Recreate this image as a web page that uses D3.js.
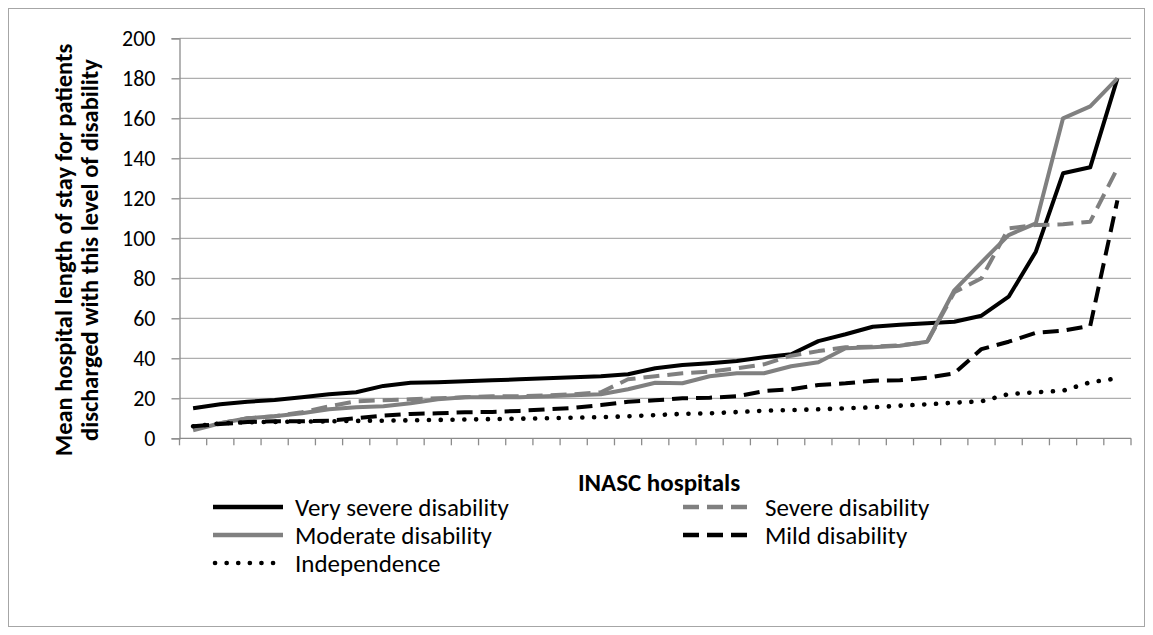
<!DOCTYPE html>
<html>
<head>
<meta charset="utf-8">
<script src="https://cdn.jsdelivr.net/npm/d3@7/dist/d3.min.js"></script>
<style>
  html, body { margin: 0; padding: 0; background: #fff; }
  svg { display: block; }
  text { font-family: Carlito, Calibri, Lato, "Open Sans", sans-serif; fill: #000; }
</style>
</head>
<body>
<svg id="chart" width="1153" height="635"></svg>
<script>
// ---- data ----
const hospitals = d3.range(1, 36); // 35 INASC hospitals
const verySevere = [15, 17, 18.3, 19.2, 20.5, 22, 23, 26.2, 27.8, 28, 28.5, 29, 29.5, 30, 30.5, 31, 32, 35, 36.6, 37.5, 38.6, 40.5, 42, 48.6, 52, 55.8, 56.8, 57.5, 58.3, 61.3, 70.8, 93.3, 132.5, 135.5, 180];
const severe = [5, 7.5, 10, 11, 13, 16, 18.5, 19, 19.5, 20, 20.5, 21, 21, 21.5, 22, 23, 29.5, 31, 32.5, 33.3, 35, 37, 41.3, 43.6, 45.5, 45.8, 46.5, 48, 73, 80, 105, 106.6, 107, 108.3, 135];
const moderate = [4, 7.5, 10, 11, 12.5, 14.5, 15.5, 16, 17.5, 19.5, 20.5, 20.5, 20.5, 21, 21.5, 22, 24.5, 27.8, 27.5, 31, 32.5, 32.5, 36, 38, 45, 45.5, 46.3, 48.3, 74, 88, 101.6, 107.5, 160, 166, 180];
const mild = [6, 7.1, 8.1, 8.5, 8.5, 8.8, 10, 11.3, 12.2, 12.5, 13, 13.2, 13.7, 14.5, 15.2, 16.6, 18.3, 19, 20, 20.3, 21, 23.6, 24.5, 26.6, 27.5, 28.8, 29, 30.3, 32.5, 44.6, 48.3, 52.8, 53.8, 56.2, 119];
const independence = [6, 7.5, 8, 8.2, 8.3, 8.5, 8.7, 8.8, 9, 9.2, 9.4, 9.6, 9.8, 10, 10.3, 10.6, 11, 11.6, 12.2, 12.5, 13.1, 13.8, 14.1, 14.5, 15, 15.5, 16.3, 17, 17.8, 18.5, 22.1, 23, 23.8, 28, 30];
const yTicks = [0, 20, 40, 60, 80, 100, 120, 140, 160, 180, 200];
const seriesNames = ["Very severe disability", "Severe disability", "Moderate disability", "Mild disability", "Independence"];
const yTitleLines = ["Mean hospital length of stay for patients", "discharged with this level of disability"];
const xTitle = "INASC hospitals";

// ---- styles ----
const styles = [
  { color: "#000000", dash: null, cap: "butt", w: 4 },
  { color: "#808080", dash: "16 8", cap: "butt", w: 4 },
  { color: "#808080", dash: null, cap: "butt", w: 4 },
  { color: "#000000", dash: "16 8", cap: "butt", w: 4 },
  { color: "#000000", dash: "0.1 11.7", cap: "round", w: 4.6 }
];
const seriesValues = [verySevere, severe, moderate, mild, independence];

const svg = d3.select("#chart");
const plotLeft = 179.5, plotRight = 1131, plotTop = 38.3, plotBottom = 438.3;

// outer border
svg.append("rect").attr("x", 8.5).attr("y", 8.5).attr("width", 1136).attr("height", 618)
  .attr("fill", "none").attr("stroke", "#a6a6a6").attr("stroke-width", 1);

const x = d3.scaleBand().domain(hospitals).range([plotLeft, plotRight]).padding(0);
const y = d3.scaleLinear().domain([0, 200]).range([plotBottom, plotTop]);

// gridlines
svg.append("g").selectAll("line").data(yTicks.filter(d => d > 0)).join("line")
  .attr("x1", plotLeft).attr("x2", plotRight)
  .attr("y1", d => y(d)).attr("y2", d => y(d))
  .attr("stroke", "#9a9a9a").attr("stroke-width", 1);

// y axis
const yAxis = svg.append("g").attr("transform", `translate(${plotLeft},0)`)
  .call(d3.axisLeft(y).tickValues(yTicks).tickSize(8).tickPadding(16));
yAxis.select(".domain").attr("stroke", "#8c8c8c").attr("stroke-width", 1.3);
yAxis.selectAll(".tick line").attr("stroke", "#8c8c8c").attr("stroke-width", 1.3);
yAxis.selectAll(".tick text").attr("font-size", 22).attr("fill", "#000")
  .style("font-family", "Carlito, Calibri, Lato, sans-serif");

// x axis line + ticks at band boundaries
const xg = svg.append("g");
xg.append("line").attr("x1", plotLeft).attr("x2", plotRight).attr("y1", plotBottom).attr("y2", plotBottom)
  .attr("stroke", "#8c8c8c").attr("stroke-width", 1.3);
const boundaries = hospitals.map(d => x(d)).concat([x(hospitals[hospitals.length - 1]) + x.bandwidth()]);
xg.selectAll("line.tk").data(boundaries).join("line").attr("class", "tk")
  .attr("x1", d => d).attr("x2", d => d).attr("y1", plotBottom).attr("y2", plotBottom + 7)
  .attr("stroke", "#8c8c8c").attr("stroke-width", 1.3);

// series lines
const line = d3.line().x((d, i) => x(hospitals[i]) + x.bandwidth() / 2).y(d => y(d));
seriesValues.forEach((vals, k) => {
  const st = styles[k];
  svg.append("path").datum(vals).attr("d", line)
    .attr("fill", "none").attr("stroke", st.color).attr("stroke-width", st.w)
    .attr("stroke-linejoin", "round").attr("stroke-linecap", st.cap)
    .attr("stroke-dasharray", st.dash);
});

// y title
yTitleLines.forEach((t, i) => {
  svg.append("text")
    .attr("transform", `translate(${i === 0 ? 72 : 98},250) rotate(-90)`)
    .attr("text-anchor", "middle").attr("font-size", 24.5).attr("font-weight", "bold")
    .text(t);
});

// x title
svg.append("text").attr("x", 659).attr("y", 491).attr("text-anchor", "middle")
  .attr("font-size", 25).attr("font-weight", "bold").text(xTitle);

// legend
const legendPos = [
  { x: 213, y: 507 }, { x: 683, y: 507 },
  { x: 213, y: 535 }, { x: 683, y: 535 },
  { x: 213, y: 563 }
];
seriesNames.forEach((name, k) => {
  const p = legendPos[k], st = styles[k];
  svg.append("line").attr("x1", p.x + (k === 4 ? 2 : 0)).attr("x2", p.x + 70).attr("y1", p.y).attr("y2", p.y)
    .attr("stroke", st.color).attr("stroke-width", k === 4 ? 4.6 : 4.5)
    .attr("stroke-linecap", st.cap).attr("stroke-dasharray", k === 4 ? "0.1 11.5" : st.dash);
  svg.append("text").attr("x", p.x + 82).attr("y", p.y + 9)
    .attr("font-size", 25).text(name);
});
</script>
</body>
</html>
